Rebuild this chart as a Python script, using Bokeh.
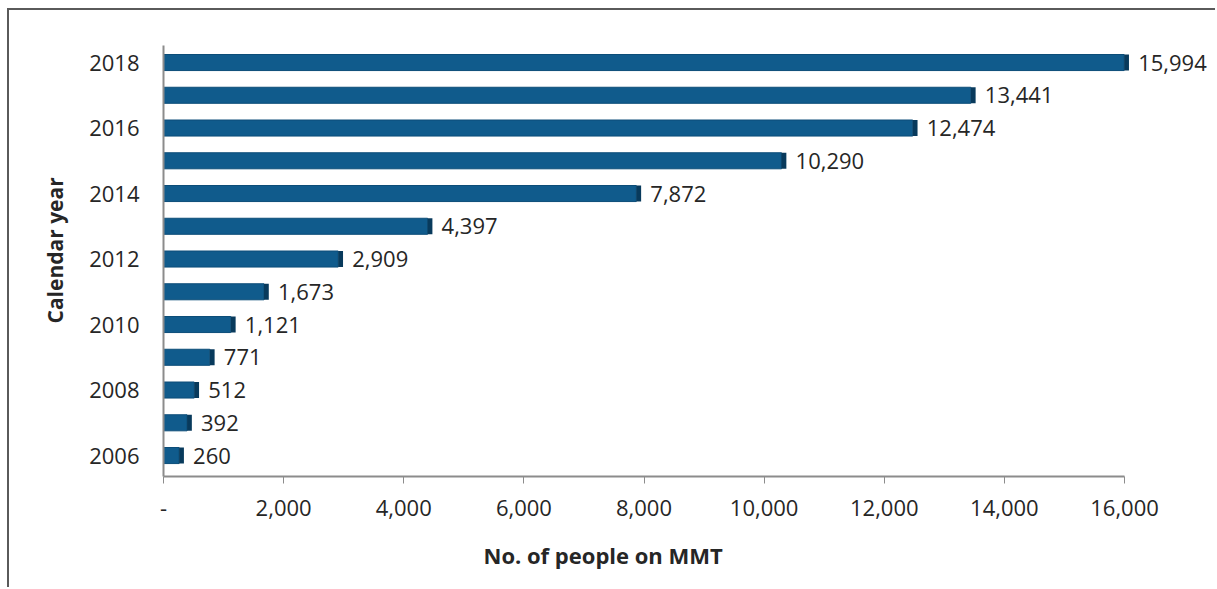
from bokeh.plotting import figure
from bokeh.models import (ColumnDataSource, FixedTicker, NumeralTickFormatter,
                          Range1d, Title)
from bokeh.core.properties import value
from bokeh.embed import file_html
from bokeh.resources import INLINE

# ---- data ----
years = [2006, 2007, 2008, 2009, 2010, 2011, 2012, 2013, 2014, 2015, 2016, 2017, 2018]
people = [260, 392, 512, 771, 1121, 1673, 2909, 4397, 7872, 10290, 12474, 13441, 15994]
year_ticks = [2006, 2008, 2010, 2012, 2014, 2016, 2018]
x_ticks = [0, 2000, 4000, 6000, 8000, 10000, 12000, 14000, 16000]
x_title = "No. of people on MMT"
y_title = "Calendar year"

labels = ["{:,}".format(v) for v in people]
cap_w = 80  # depth of the 3-D end face, in data units
src = ColumnDataSource(dict(
    y=years, v=people, lab=labels,
    cap_l=people, cap_r=[v + cap_w for v in people],
))

FONT = "Open Sans"
TXT = "#262626"

p = figure(width=1208, height=579, output_backend="svg", toolbar_location=None,
           x_range=Range1d(0, 17548), y_range=Range1d(2005.36, 2018.52),
           min_border_left=154, min_border_right=0, min_border_top=35,
           min_border_bottom=113, outline_line_color=None,
           background_fill_color="white", border_fill_color="white")
p.margin = (8, 0, 0, 7)
p.styles = {"border-top": "2px solid #5a5a5a", "border-left": "2px solid #5a5a5a"}

p.hbar(y="y", left=0, right="v", height=0.49, source=src,
       fill_color="#105b8c", line_color="#0c4d78", line_width=1)
p.hbar(y="y", left="cap_l", right="cap_r", height=0.49, source=src,
       fill_color="#083a5c", line_color=None)
p.text(x="v", y="y", text="lab", source=src, x_offset=14,
       text_font=value(FONT), text_baseline="middle",
       text_align="left", text_font_size="22px", text_color=TXT)

p.xgrid.visible = False
p.ygrid.visible = False

xa = p.xaxis[0]
xa.ticker = FixedTicker(ticks=x_ticks)
xa.formatter = NumeralTickFormatter(format="0,0")
xa.major_label_overrides = {0: "-"}
xa.bounds = (0, 16000)
xa.axis_line_color = "#8c8c8c"
xa.axis_line_width = 2
xa.major_tick_line_color = "#8c8c8c"
xa.major_tick_line_width = 1
xa.major_tick_out = 7
xa.major_tick_in = 0
xa.minor_tick_line_color = None
xa.major_label_standoff = 16
xa.major_label_text_font = FONT
xa.major_label_text_font_size = "22px"
xa.major_label_text_color = TXT

ya = p.yaxis[0]
ya.ticker = FixedTicker(ticks=year_ticks)
ya.axis_line_color = "#8c8c8c"
ya.axis_line_width = 2
ya.major_tick_line_color = None
ya.minor_tick_line_color = None
ya.major_label_standoff = 18
ya.major_label_text_font = FONT
ya.major_label_text_font_size = "22px"
ya.major_label_text_color = TXT

p.add_layout(Title(text=x_title, align="left", offset=320, text_font=FONT,
                   text_font_size="22px", text_font_style="bold",
                   text_color=TXT, standoff=39), "below")
p.add_layout(Title(text=y_title, align="left", offset=153, text_font=FONT,
                   text_font_size="21px", text_font_style="bold",
                   text_color=TXT, standoff=36), "left")

open("out.html", "w").write(file_html(p, INLINE))
